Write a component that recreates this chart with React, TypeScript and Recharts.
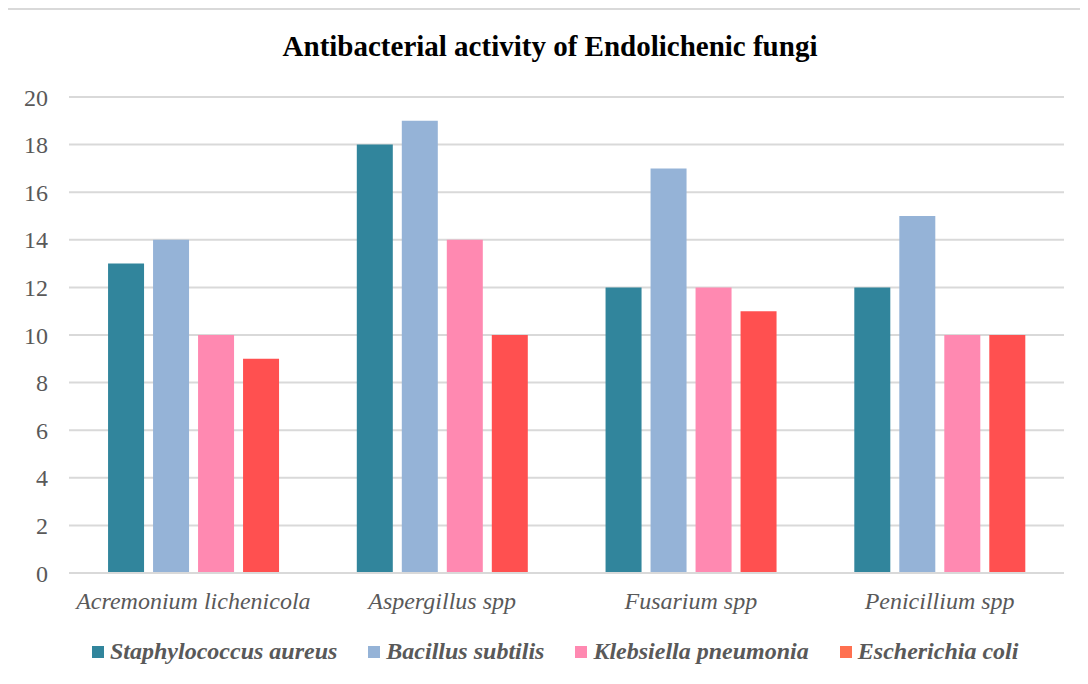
import React from "react";
import { BarChart, Bar, XAxis, YAxis, CartesianGrid } from "recharts";

const categories = ["Acremonium lichenicola", "Aspergillus spp", "Fusarium spp", "Penicillium spp"];
const staphylococcus = [13, 18, 12, 12];
const bacillus = [14, 19, 17, 15];
const klebsiella = [10, 14, 12, 10];
const escherichia = [9, 10, 11, 10];
const yTicks = [0, 2, 4, 6, 8, 10, 12, 14, 16, 18, 20];

const series = [
  { key: "staph", name: "Staphylococcus aureus", color: "#31859C", legend: "#31859C" },
  { key: "bac", name: "Bacillus subtilis", color: "#95B3D7", legend: "#95B3D7" },
  { key: "kleb", name: "Klebsiella pneumonia", color: "#FF89B1", legend: "#FF89B1" },
  { key: "ecoli", name: "Escherichia coli", color: "#FF5050", legend: "#FF7050" },
];

const data = categories.map((c, i) => ({
  name: c,
  staph: staphylococcus[i],
  bac: bacillus[i],
  kleb: klebsiella[i],
  ecoli: escherichia[i],
}));

const FONT = "Liberation Serif, Times New Roman, serif";

export default function App() {
  return (
    <div style={{ position: "relative", margin: -8, width: 1088, height: 684, overflow: "hidden", background: "#fff", fontFamily: FONT }}>
      <div style={{ position: "absolute", left: 6, top: 8, width: 1100, height: 700, border: "2px solid #d9d9d9", boxSizing: "border-box" }} />
      <div style={{ position: "absolute", left: 0, top: 30, width: 1100, textAlign: "center", fontSize: 29, fontWeight: "bold", color: "#000", whiteSpace: "nowrap" }}>
        Antibacterial activity of Endolichenic fungi
      </div>
      <div style={{ position: "absolute", left: 0, top: 0 }}>
        <BarChart
          width={1088}
          height={684}
          data={data}
          margin={{ top: 97, right: 24, left: 0, bottom: 61 }}
          barCategoryGap="15.7%"
          barGap={9}
          style={{ fontFamily: FONT }}
        >
          <CartesianGrid vertical={false} stroke="#d9d9d9" strokeWidth={2} />
          <YAxis
            width={69}
            domain={[0, 20]}
            ticks={yTicks}
            axisLine={false}
            tickLine={false}
            tickSize={0}
            tickMargin={21}
            tick={{ fontSize: 24, fill: "#595959", fontFamily: FONT }}
            interval={0}
          />
          <XAxis
            dataKey="name"
            height={50}
            axisLine={{ stroke: "#d9d9d9", strokeWidth: 2 }}
            tickLine={false}
            tickSize={0}
            tickMargin={19}
            tick={{ fontSize: 24, fill: "#595959", fontFamily: FONT, fontStyle: "italic" }}
            interval={0}
          />
          {series.map((s) => (
            <Bar key={s.key} dataKey={s.key} name={s.name} fill={s.color} isAnimationActive={false} />
          ))}
        </BarChart>
      </div>
      <div style={{ position: "absolute", left: 92, top: 638, display: "flex", alignItems: "center", whiteSpace: "nowrap" }}>
        {series.map((s, i) => (
          <div key={s.key} style={{ display: "flex", alignItems: "center", marginRight: i < series.length - 1 ? 31 : 0 }}>
            <span style={{ display: "inline-block", width: 12, height: 12, background: s.legend, marginRight: 6 }} />
            <span style={{ fontSize: 24, fontWeight: "bold", fontStyle: "italic", color: "#595959" }}>{s.name}</span>
          </div>
        ))}
      </div>
    </div>
  );
}
